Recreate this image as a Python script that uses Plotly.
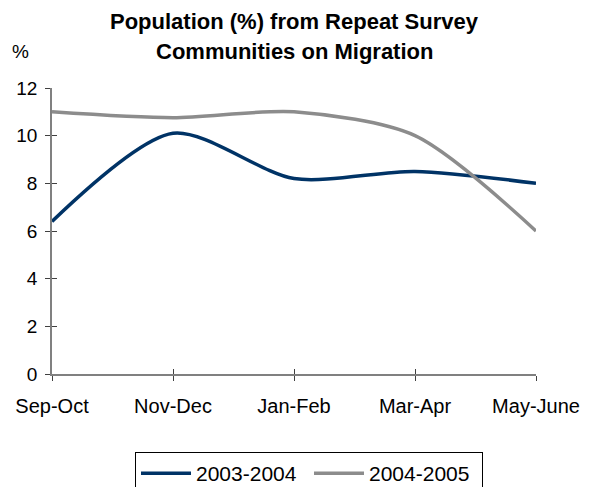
import plotly.graph_objects as go

categories = ["Sep-Oct", "Nov-Dec", "Jan-Feb", "Mar-Apr", "May-June"]
series_2003_2004 = [6.4, 10.1, 8.2, 8.5, 8.0]
series_2004_2005 = [11.0, 10.75, 11.0, 10.0, 6.0]
y_ticks = [0, 2, 4, 6, 8, 10, 12]
title_lines = ["Population (%) from Repeat Survey", "Communities on Migration"]

FONT = "Liberation Sans, Arial, sans-serif"
AXIS_COLOR = "#808080"
TICK_COLOR = "#404040"

fig = go.Figure()
fig.add_trace(go.Scatter(x=categories, y=series_2003_2004, name="2003-2004", mode="lines",
                         line=dict(color="#003366", width=3.5, shape="spline", smoothing=0.8)))
fig.add_trace(go.Scatter(x=categories, y=series_2004_2005, name="2004-2005", mode="lines",
                         line=dict(color="#8c8c8c", width=3.5, shape="spline", smoothing=0.8)))

fig.update_layout(
    width=593, height=487,
    margin=dict(l=52, r=57, t=88, b=113, autoexpand=False),
    paper_bgcolor="white", plot_bgcolor="white",
    font=dict(family=FONT, size=19, color="black"),
    xaxis=dict(type="category", range=[0, 4], showgrid=False, zeroline=False, automargin=False,
               showline=True, linecolor=AXIS_COLOR, linewidth=1.5,
               ticks="outside", ticklen=5, tickcolor=TICK_COLOR, tickwidth=1,
               ticklabelstandoff=8,
               tickfont=dict(family=FONT, size=20, color="black")),
    yaxis=dict(range=[0, 12], tickvals=y_ticks, showgrid=False, zeroline=False, automargin=False,
               showline=True, linecolor=AXIS_COLOR, linewidth=1.5,
               ticks="outside", ticklen=5, tickcolor=TICK_COLOR, tickwidth=1,
               ticklabelstandoff=4,
               tickfont=dict(family=FONT, size=19, color="black")),
    xaxis2=dict(overlaying="x", range=[0, 4], tickvals=[0, 1, 2, 3, 4], showticklabels=False,
                showgrid=False, zeroline=False, automargin=False, showline=False,
                ticks="inside", ticklen=5, tickcolor=TICK_COLOR, tickwidth=1),
    yaxis2=dict(overlaying="y", side="left", range=[0, 12], tickvals=y_ticks, showticklabels=False,
                showgrid=False, zeroline=False, automargin=False, showline=False,
                ticks="inside", ticklen=5, tickcolor=TICK_COLOR, tickwidth=1),
    legend=dict(orientation="h", x=0.531, xanchor="center", y=-0.273, yanchor="top",
                bordercolor="black", borderwidth=1, bgcolor="white",
                font=dict(family=FONT, size=21, color="black"),
                itemwidth=50, tracegroupgap=0, entrywidth=108),
    showlegend=True,
)

# invisible trace to activate the overlay tick axes
fig.add_trace(go.Scatter(x=[0], y=[0], xaxis="x2", yaxis="y2", mode="markers",
                         marker=dict(opacity=0), showlegend=False, hoverinfo="skip"))

fig.add_annotation(text="<b>" + title_lines[0] + "</b>", xref="paper", yref="paper",
                   x=0.502, y=1.231, xanchor="center", yanchor="middle", showarrow=False,
                   font=dict(family=FONT, size=22, color="black"))
fig.add_annotation(text="<b>" + title_lines[1] + "</b>", xref="paper", yref="paper",
                   x=0.502, y=1.129, xanchor="center", yanchor="middle", showarrow=False,
                   font=dict(family=FONT, size=22, color="black"))
fig.add_annotation(text="%", xref="paper", yref="paper", x=-0.066, y=1.126,
                   xanchor="center", yanchor="middle", showarrow=False,
                   font=dict(family=FONT, size=19, color="black"))

fig.write_html("out.html", config={"displayModeBar": False},
               post_script="document.body.style.margin='0';")
